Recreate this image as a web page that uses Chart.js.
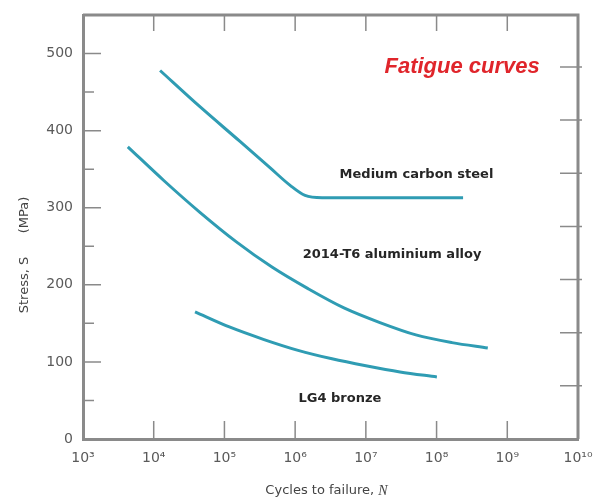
<!DOCTYPE html>
<html>
<head>
<meta charset="utf-8">
<script src="https://cdn.jsdelivr.net/npm/chart.js@4/dist/chart.umd.min.js"></script>
<style>
  html, body { margin: 0; padding: 0; background: #ffffff; }
  canvas { display: block; }
</style>
</head>
<body>
<canvas id="c" width="598" height="499"></canvas>
<script>
// ---- data (cycles to failure N, stress S in MPa) ----
const steelN   = [1.23e4, 4.5e4, 1.66e5, 4.4e5, 8.5e5, 1.38e6, 2.4e6, 2.37e8];
const steelS   = [478,    431,   386,    352,   329,   316,    313,   313];
const alumN    = [4.3e3, 1.4e4, 4.5e4, 1.46e5, 4.7e5, 1.52e6, 4.9e6, 1.58e7, 5.1e7, 1.65e8, 5.3e8];
const alumS    = [379,   335,   294,   256,    223,   195,    170,   151,    135,   125,    118];
const bronzeN  = [3.84e4, 1.2e5, 3.63e5, 1.1e6, 3.32e6, 1.0e7, 3.04e7, 1.01e8];
const bronzeS  = [165,    145,   129,    115,   104,    95,    87,     80.5];

const xDecades   = [1e3, 1e4, 1e5, 1e6, 1e7, 1e8, 1e9, 1e10];
const xTickText  = ['10³', '10⁴', '10⁵', '10⁶', '10⁷', '10⁸', '10⁹', '10¹⁰'];
const yMajor     = [0, 100, 200, 300, 400, 500];
const yMinor     = [50, 150, 250, 350, 450];
const ksiTicks   = [10, 20, 30, 40, 50, 60, 70];   // right-hand axis, ksi
const MPA_PER_KSI = 6.895;

const curveLabels = [
  { text: 'Medium carbon steel',     n: 5.2e7, s: 343 },
  { text: '2014-T6 aluminium alloy', n: 2.35e7, s: 239 },
  { text: 'LG4 bronze',              n: 4.3e6, s: 53 }
];
const chartTitle = { text: 'Fatigue curves', n: 2.3e8, s: 482 };

const pts = (xs, ys) => xs.map((x, i) => ({ x: x, y: ys[i] }));
const LINE = '#2f9cb3';
const FONT = '"DejaVu Sans", "Open Sans", sans-serif';

const overlay = {
  id: 'overlay',
  afterDraw(chart) {
    const ctx = chart.ctx;
    const a = chart.chartArea;
    const xs = chart.scales.x, ys = chart.scales.y;
    ctx.save();
    // top and right frame
    ctx.strokeStyle = '#8a8a8a';
    ctx.lineWidth = 3;
    ctx.beginPath();
    ctx.moveTo(a.left, a.top); ctx.lineTo(a.right, a.top); ctx.lineTo(a.right, a.bottom);
    ctx.stroke();
    // inward ticks
    ctx.lineWidth = 1.5;
    ctx.beginPath();
    yMajor.forEach(v => { const p = ys.getPixelForValue(v); ctx.moveTo(a.left, p); ctx.lineTo(a.left + 18, p); });
    yMinor.forEach(v => { const p = ys.getPixelForValue(v); ctx.moveTo(a.left, p); ctx.lineTo(a.left + 11, p); });
    ksiTicks.forEach(k => { const p = ys.getPixelForValue(k * MPA_PER_KSI); ctx.moveTo(a.right + 4, p); ctx.lineTo(a.right - 18, p); });
    xDecades.slice(1, -1).forEach(v => {
      const p = xs.getPixelForValue(v);
      ctx.moveTo(p, a.bottom); ctx.lineTo(p, a.bottom - 18);
      ctx.moveTo(p, a.top); ctx.lineTo(p, a.top + 16);
    });
    ctx.stroke();
    // curve labels
    ctx.fillStyle = '#262626';
    ctx.font = 'bold 13px ' + FONT;
    ctx.textAlign = 'center';
    ctx.textBaseline = 'middle';
    curveLabels.forEach(l => ctx.fillText(l.text, xs.getPixelForValue(l.n), ys.getPixelForValue(l.s)));
    // title
    ctx.fillStyle = '#e0252b';
    ctx.font = 'italic bold 22px "Liberation Sans", "Open Sans", sans-serif';
    ctx.fillText(chartTitle.text, xs.getPixelForValue(chartTitle.n), ys.getPixelForValue(chartTitle.s));
    // axis titles
    ctx.fillStyle = '#444444';
    const xt = 'Cycles to failure, ';
    ctx.font = '13px ' + FONT;
    const w1 = ctx.measureText(xt).width;
    ctx.font = 'italic 14px "Liberation Serif", serif';
    const w2 = ctx.measureText('N').width;
    const cx = (a.left + a.right) / 2 - 4;
    ctx.textAlign = 'left';
    ctx.font = '13px ' + FONT;
    ctx.fillText(xt, cx - (w1 + w2) / 2, 491);
    ctx.font = 'italic 14px "Liberation Serif", serif';
    ctx.fillText('N', cx - (w1 + w2) / 2 + w1, 491);
    ctx.translate(25, 256);
    ctx.rotate(-Math.PI / 2);
    ctx.textAlign = 'center';
    ctx.font = '13px ' + FONT;
    ctx.fillText('Stress, S', -29, 0);
    ctx.fillText('(MPa)', 41, 0);
    ctx.restore();
  }
};

new Chart(document.getElementById('c'), {
  type: 'scatter',
  data: {
    datasets: [
      { label: 'Medium carbon steel', data: pts(steelN, steelS) },
      { label: '2014-T6 aluminium alloy', data: pts(alumN, alumS) },
      { label: 'LG4 bronze', data: pts(bronzeN, bronzeS) }
    ].map(d => Object.assign(d, {
      showLine: true, borderColor: LINE, borderWidth: 3, pointRadius: 0,
      cubicInterpolationMode: 'monotone', fill: false
    }))
  },
  options: {
    responsive: false,
    animation: false,
    layout: { padding: { top: 15, right: 20, left: 0, bottom: 0 } },
    plugins: { legend: { display: false }, title: { display: false }, tooltip: { enabled: false } },
    scales: {
      x: {
        type: 'logarithmic', min: 1e3, max: 1e10,
        afterBuildTicks: s => { s.ticks = xDecades.map(v => ({ value: v })); },
        afterFit: s => { s.height = 60; s.paddingLeft = 0; s.paddingRight = 0; },
        grid: { drawOnChartArea: false, drawTicks: false },
        border: { color: '#8a8a8a', width: 3 },
        ticks: {
          padding: 11, color: '#5a5a5a', maxRotation: 0, autoSkip: false,
          font: { family: FONT, size: 14 },
          callback: (v, i) => xTickText[i]
        }
      },
      y: {
        min: 0, max: 550,
        afterBuildTicks: s => { s.ticks = yMajor.map(v => ({ value: v })); },
        afterFit: s => { s.width = 83; s.paddingTop = 0; s.paddingBottom = 0; },
        grid: { drawOnChartArea: false, drawTicks: false },
        border: { color: '#8a8a8a', width: 3 },
        ticks: {
          padding: 10, color: '#5a5a5a',
          font: { family: FONT, size: 14 }
        }
      }
    }
  },
  plugins: [overlay]
});
</script>
</body>
</html>
